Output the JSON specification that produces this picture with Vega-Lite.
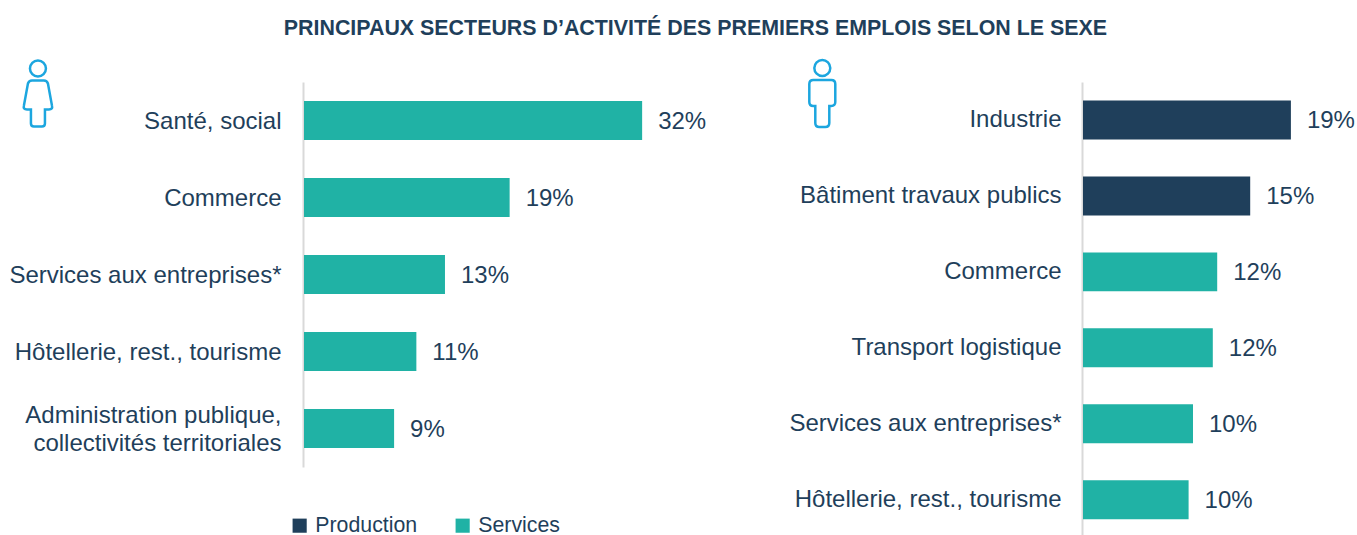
{
"$schema":"https://vega.github.io/schema/vega-lite/v6.json",
"background":"white",
"padding":{"left":8,"top":17,"right":0,"bottom":0},
"title":{"text":"PRINCIPAUX SECTEURS D’ACTIVITÉ DES PREMIERS EMPLOIS SELON LE SEXE","font":"Liberation Sans","fontSize":21.4,"fontWeight":"bold","color":"#1F3F5B","anchor":"middle","offset":16,"dx":12},
"config":{"view":{"stroke":null},"font":"Liberation Sans"},
"spacing":60,
"bounds":"full",
"resolve":{"scale":{"color":"independent","x":"independent","y":"independent"}},
"hconcat":[
{"width":424,"height":385,
 "data":{"values":[
  {"secteur":"Santé, social","part":31.9,"label":"32%","type":"Services"},
  {"secteur":"Commerce","part":19.4,"label":"19%","type":"Services"},
  {"secteur":"Services aux entreprises*","part":13.3,"label":"13%","type":"Services"},
  {"secteur":"Hôtellerie, rest., tourisme","part":10.6,"label":"11%","type":"Services"},
  {"secteur":"Administration publique, collectivités territoriales","part":8.5,"label":"9%","type":"Services"}]},
 "layer":[
  {"mark":{"type":"bar"},
   "encoding":{
    "y":{"field":"secteur","type":"nominal","sort":null,"title":null,
     "scale":{"domain":["Santé, social","Commerce","Services aux entreprises*","Hôtellerie, rest., tourisme","Administration publique, collectivités territoriales"],"paddingInner":0.494,"paddingOuter":0.247},
     "axis":{"ticks":false,"offset":1,"domainColor":"#D9D9D9","domainWidth":2,"labelPadding":22,"labelFontSize":24,"labelColor":"#1F3F5B","labelFont":"Liberation Sans","labelLimit":400,"labelLineHeight":28,"labelOffset":{"condition":{"test":"datum.value == 'Administration publique, collectivités territoriales'","value":-13},"value":1},"labelExpr":"datum.label == 'Administration publique, collectivités territoriales' ? ['Administration publique,','collectivités territoriales'] : datum.label"}},
    "x":{"field":"part","type":"quantitative","title":null,"scale":{"domain":[0,40],"nice":false},"axis":null},
    "color":{"field":"type","type":"nominal","scale":{"domain":["Production","Services"],"range":["#1F3F5B","#20B2A5"]},
    "legend":{"title":null,"orient":"none","legendX":-15,"legendY":433,"direction":"horizontal","symbolType":"square","symbolSize":200,"symbolStrokeWidth":0,"symbolOpacity":1,"labelFontSize":21.3,"labelColor":"#1F3F5B","labelFont":"Liberation Sans","columnPadding":34,"labelOffset":5}}}},
  {"mark":{"type":"text","align":"left","dx":16,"dy":1,"fontSize":24,"color":"#1F3F5B","font":"Liberation Sans"},
   "encoding":{"y":{"field":"secteur","type":"nominal","sort":null,"title":null},"x":{"field":"part","type":"quantitative"},"text":{"field":"label"}}},
  {"data":{"values":[{"icone":"femme"}]},
   "mark":{"type":"point","filled":false,"size":4624,"strokeWidth":2.5,"color":"#1CA6DF","yOffset":-26,"opacity":1,
    "shape":"M-.235,-.765 A.235,.235 0 1 1 .235,-.765 A.235,.235 0 1 1 -.235,-.765 Z M-.176,-.412 L.176,-.412 Q.265,-.412 .294,-.324 L.412,.324 Q.441,.441 .324,.441 L.206,.441 L.206,.853 Q.206,.941 .118,.941 L-.118,.941 Q-.206,.941 -.206,.853 L-.206,.441 L-.324,.441 Q-.441,.441 -.412,.324 L-.294,-.324 Q-.265,-.412 -.176,-.412 Z"},
   "encoding":{"x":{"datum":-25.1,"type":"quantitative"},"y":{"datum":"Santé, social","type":"nominal"}}}
 ]},
{"width":275,"height":453,
 "data":{"values":[
  {"secteur":"Industrie","part":18.9,"label":"19%","type":"Production"},
  {"secteur":"Bâtiment travaux publics","part":15.2,"label":"15%","type":"Production"},
  {"secteur":"Commerce","part":12.2,"label":"12%","type":"Services"},
  {"secteur":"Transport logistique","part":11.8,"label":"12%","type":"Services"},
  {"secteur":"Services aux entreprises*","part":10,"label":"10%","type":"Services"},
  {"secteur":"Hôtellerie, rest., tourisme","part":9.6,"label":"10%","type":"Services"}]},
 "layer":[
  {"mark":{"type":"bar"},
   "encoding":{
    "y":{"field":"secteur","type":"nominal","sort":null,"title":null,
     "scale":{"domain":["Industrie","Bâtiment travaux publics","Commerce","Transport logistique","Services aux entreprises*","Hôtellerie, rest., tourisme"],"paddingInner":0.487,"paddingOuter":0.225,"align":0.54},
     "axis":{"ticks":false,"offset":1,"domainColor":"#D9D9D9","domainWidth":2,"labelPadding":21,"labelOffset":0,"labelFontSize":24,"labelColor":"#1F3F5B","labelFont":"Liberation Sans","labelLimit":400}},
    "x":{"field":"part","type":"quantitative","title":null,"scale":{"domain":[0,25],"nice":false},"axis":null},
    "color":{"field":"type","type":"nominal","scale":{"domain":["Production","Services"],"range":["#1F3F5B","#20B2A5"]},"legend":null}}},
  {"mark":{"type":"text","align":"left","dx":16,"dy":1,"fontSize":24,"color":"#1F3F5B","font":"Liberation Sans"},
   "encoding":{"y":{"field":"secteur","type":"nominal","sort":null,"title":null},"x":{"field":"part","type":"quantitative"},"text":{"field":"label"}}},
  {"data":{"values":[{"icone":"homme"}]},
   "mark":{"type":"point","filled":false,"size":4624,"strokeWidth":2.5,"color":"#1CA6DF","yOffset":-26,"opacity":1,
    "shape":"M-.235,-.765 A.235,.235 0 1 1 .235,-.765 A.235,.235 0 1 1 -.235,-.765 Z M-.265,-.412 L.265,-.412 Q.382,-.412 .382,-.294 L.382,.235 Q.382,.353 .265,.353 L.206,.353 L.206,.853 Q.206,.971 .088,.971 L-.088,.971 Q-.206,.971 -.206,.853 L-.206,.353 L-.265,.353 Q-.382,.353 -.382,.235 L-.382,-.294 Q-.382,-.412 -.265,-.412 Z"},
   "encoding":{"x":{"datum":-23.7,"type":"quantitative"},"y":{"datum":"Industrie","type":"nominal"}}}
 ]}
]}
